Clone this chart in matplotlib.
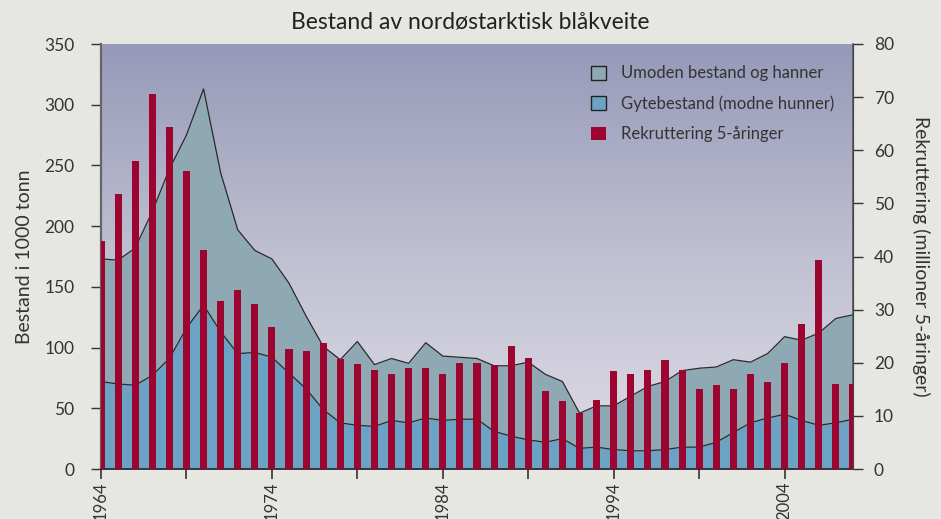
import numpy as np
import matplotlib
matplotlib.use("Agg")
import matplotlib.pyplot as plt
from matplotlib.patches import Patch
from matplotlib.colors import LinearSegmentedColormap

years = list(range(1964, 2009))
total = [173, 172, 182, 212, 247, 275, 313, 244, 197, 180, 173, 153, 126, 101, 90,
         105, 86, 91, 87, 104, 93, 92, 91, 85, 85, 88, 78, 72, 46, 52, 52,
         60, 68, 72, 81, 83, 84, 90, 88, 95, 109, 106, 112, 124, 127]
spawn = [72, 70, 69, 77, 91, 116, 135, 113, 95, 96, 92, 79, 66, 49, 38,
         36, 35, 40, 38, 42, 40, 41, 41, 31, 27, 24, 22, 25, 17, 18, 16,
         15, 15, 16, 18, 18, 22, 30, 38, 42, 45, 40, 36, 38, 41]
recruit = [43, 51.8, 58, 70.6, 64.4, 56.1, 41.2, 31.6, 33.7, 31.1, 26.7, 22.6, 22.2,
           23.7, 20.7, 19.8, 18.6, 17.9, 19.0, 19.0, 17.9, 20.0, 20.0, 19.6, 23.2,
           20.9, 14.7, 12.8, 10.5, 13.0, 18.4, 17.9, 18.6, 20.5, 18.6, 15.1, 15.8,
           15.1, 17.9, 16.4, 20.0, 27.3, 39.3, 16.0, 16.0]
major_years = [1964, 1974, 1984, 1994, 2004]
legend_labels = ["Umoden bestand og hanner", "Gytebestand (modne hunner)",
                 "Rekruttering 5-åringer"]

plt.rcParams['font.family'] = ['Lato', 'DejaVu Sans']
txt = '#333333'

fig = plt.figure(figsize=(9.41, 5.19), dpi=100)
fig.patch.set_facecolor('#e6e6e2')
ax = fig.add_axes([101/941, 1-469/519, (853-101)/941, (469-44)/519])

# gradient background: dark purple-grey at top, light at bottom
cmap = LinearSegmentedColormap.from_list('bg', ['#9699b8', '#c0c0d2', '#e0dde6'])
grad = np.linspace(0, 1, 256).reshape(-1, 1)
ax.imshow(grad, cmap=cmap, aspect='auto', extent=[1964, 2008, 0, 350],
          origin='upper', zorder=0)
ax.set_xlim(1964, 2008)
ax.set_ylim(0, 350)

ax.fill_between(years, spawn, total, color='#8fa9b4', zorder=1, lw=0)
ax.fill_between(years, 0, spawn, color='#6aa3c4', zorder=1, lw=0)
ax.plot(years, total, color='#2a2a2a', lw=0.9, zorder=2)
ax.plot(years, spawn, color='#2a2a2a', lw=0.9, zorder=2)

ax2 = ax.twinx()
ax2.set_ylim(0, 80)
ax2.bar(years, recruit, width=0.42, color='#9b052f', zorder=3)
ax2.set_xlim(1964, 2008)

for a in (ax, ax2):
    a.spines['top'].set_visible(False)
ax.spines['left'].set_color('#666666')
ax.spines['left'].set_linewidth(1.6)
ax.spines['bottom'].set_color('#222222')
ax.spines['bottom'].set_linewidth(1.2)
ax2.spines['right'].set_color('#555555')
ax2.spines['right'].set_linewidth(1.2)
ax2.spines['left'].set_visible(False)
ax2.spines['bottom'].set_visible(False)

ax.set_yticks(np.arange(0, 351, 50))
ax2.set_yticks(np.arange(0, 81, 10))
ax.set_xticks(major_years)
ax.set_xticks(list(range(1969, 2008, 10)), minor=True)
ax.set_xticklabels([str(y) for y in major_years], rotation=90, fontsize=12, color=txt)
ax.tick_params(axis='x', which='both', length=7, width=1.2, color='#333333', pad=2)
ax.tick_params(axis='y', length=7, width=1.0, color='#333333', labelsize=12.5,
               labelcolor=txt, pad=12)
ax2.tick_params(axis='y', length=7, width=1.0, color='#333333', labelsize=12.5,
                labelcolor=txt, pad=8)

ax.set_ylabel("Bestand i 1000 tonn", fontsize=14, color=txt, labelpad=8)
ax2.set_ylabel("Rekruttering (millioner 5-åringer)", fontsize=14, color=txt,
               rotation=270, labelpad=26)
fig.text(0.5, 1-22/519, "Bestand av nordøstarktisk blåkveite", ha='center',
         va='center', fontsize=16.5, color='#222222')

handles = [Patch(facecolor='#8fa9b4', edgecolor='#222222', lw=1.0),
           Patch(facecolor='#6aa3c4', edgecolor='#222222', lw=1.0),
           Patch(facecolor='#9b052f', edgecolor='none')]
leg = ax2.legend(handles, legend_labels, loc='upper right', frameon=False,
                 fontsize=12, handlelength=0.9, handleheight=0.9,
                 handletextpad=0.9, labelspacing=0.85,
                 bbox_to_anchor=(0.995, 0.985))
for t in leg.get_texts():
    t.set_color(txt)

fig.savefig('out.png', dpi=100, facecolor=fig.get_facecolor())
